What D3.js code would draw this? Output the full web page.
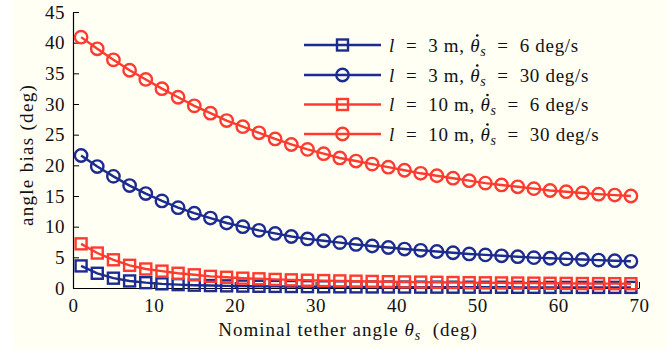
<!DOCTYPE html>
<html>
<head>
<meta charset="utf-8">
<script src="https://cdn.jsdelivr.net/npm/d3@7"></script>
<style>
  html, body { margin: 0; padding: 0; background: #fffff4; }
  svg { display: block; }
  text { font-family: "Liberation Serif", "DejaVu Serif", serif; fill: #111; }
</style>
</head>
<body>
<svg id="chart" width="667" height="349"></svg>
<script>
// nominal tether angle (deg)
const angles = d3.range(1, 70, 2);

const l3Slow = [3.6, 2.4, 1.6, 1.15, 0.87, 0.68, 0.55, 0.46, 0.4, 0.35, 0.31, 0.28, 0.26, 0.24, 0.22, 0.2, 0.19, 0.18,
  0.17, 0.16, 0.15, 0.14, 0.14, 0.13, 0.13, 0.12, 0.12, 0.11, 0.11, 0.1, 0.1, 0.1, 0.1, 0.1, 0.1];
const l3Fast = [21.6, 19.8, 18.2, 16.7, 15.4, 14.2, 13.1, 12.2, 11.4, 10.6, 10.0, 9.4, 8.9, 8.4, 8.0, 7.7, 7.4, 7.1,
  6.85, 6.6, 6.35, 6.15, 5.95, 5.75, 5.55, 5.4, 5.25, 5.1, 4.95, 4.85, 4.75, 4.65, 4.55, 4.45, 4.35];
const l10Slow = [7.2, 5.7, 4.6, 3.7, 3.1, 2.75, 2.4, 2.15, 1.9, 1.75, 1.6, 1.5, 1.4, 1.33, 1.27, 1.21, 1.16, 1.11,
  1.07, 1.03, 0.99, 0.96, 0.93, 0.9, 0.87, 0.85, 0.83, 0.81, 0.79, 0.77, 0.75, 0.73, 0.72, 0.71, 0.7];
const l10Fast = [40.9, 39.0, 37.2, 35.5, 34.0, 32.5, 31.1, 29.7, 28.5, 27.3, 26.3, 25.3, 24.3, 23.4, 22.6, 21.9, 21.2, 20.7,
  20.2, 19.7, 19.2, 18.7, 18.3, 17.9, 17.5, 17.1, 16.8, 16.5, 16.2, 15.9, 15.7, 15.5, 15.3, 15.15, 15.0];

const xTicks = [0, 10, 20, 30, 40, 50, 60, 70];
const yTicks = [0, 5, 10, 15, 20, 25, 30, 35, 40, 45];

const series = [
  { len: "3", rate: "6", values: l3Slow, color: "#1c2b8f", marker: "square" },
  { len: "3", rate: "30", values: l3Fast, color: "#1c2b8f", marker: "circle" },
  { len: "10", rate: "6", values: l10Slow, color: "#ff3b30", marker: "square" },
  { len: "10", rate: "30", values: l10Fast, color: "#ff3b30", marker: "circle" }
];

const svg = d3.select("#chart");
const width = 667, height = 349;
const margin = { top: 12, right: 28, bottom: 61, left: 73 };
const fontSize = 19;

// white strip on the far left like the exported figure
svg.append("rect").attr("x", 0).attr("y", 0).attr("width", 13).attr("height", height).attr("fill", "#ffffff");

const x = d3.scaleLinear().domain([0, 70]).range([margin.left, width - margin.right]);
const y = d3.scaleLinear().domain([0, 45]).range([height - margin.bottom, margin.top]);

// Axes with inward ticks
const xAxis = svg.append("g")
  .attr("transform", `translate(0,${y(0)})`)
  .call(d3.axisBottom(x).tickValues(xTicks).tickSizeInner(-6).tickSizeOuter(0).tickPadding(14));
const yAxis = svg.append("g")
  .attr("transform", `translate(${x(0)},0)`)
  .call(d3.axisLeft(y).tickValues(yTicks).tickSizeInner(-6).tickSizeOuter(0).tickPadding(8));

[xAxis, yAxis].forEach(g => {
  g.select(".domain").attr("stroke", "#000").attr("stroke-width", 1.2);
  g.selectAll(".tick line").attr("stroke", "#000").attr("stroke-width", 1);
  g.selectAll(".tick text").style("font-family", '"Liberation Serif", serif')
    .style("font-size", fontSize + "px").style("letter-spacing", "0.5px").attr("fill", "#111");
});
xAxis.selectAll(".tick text").attr("dy", "0.55em");

// Lines + markers
const line = d3.line().x((d, i) => x(angles[i])).y(d => y(d));

function drawMarker(g, type, color) {
  if (type === "circle") {
    g.append("circle").attr("r", 6.2).attr("fill", "none").attr("stroke", color).attr("stroke-width", 2.4);
  } else {
    g.append("rect").attr("x", -5.5).attr("y", -5.5).attr("width", 11).attr("height", 11)
      .attr("fill", "none").attr("stroke", color).attr("stroke-width", 2.4);
  }
}

series.forEach(s => {
  svg.append("path").datum(s.values)
    .attr("fill", "none").attr("stroke", s.color).attr("stroke-width", 2.4).attr("d", line);
  const pts = svg.append("g").selectAll("g").data(s.values).join("g")
    .attr("transform", (d, i) => `translate(${x(angles[i])},${y(d)})`);
  pts.each(function () { drawMarker(d3.select(this), s.marker, s.color); });
});

// Axis labels
svg.append("text")
  .attr("x", 348).attr("y", 336)
  .attr("text-anchor", "middle").style("font-size", fontSize + "px").style("letter-spacing", "1px")
  .style("white-space", "pre")
  .call(t => {
    t.append("tspan").text("Nominal tether angle ");
    t.append("tspan").style("font-style", "italic").text("θ");
    t.append("tspan").attr("dy", 4).style("font-size", "14px").style("font-style", "italic").text("s");
    t.append("tspan").attr("dy", -4).text("  (deg)");
  });

svg.append("text")
  .attr("transform", `translate(33,155) rotate(-90)`)
  .attr("text-anchor", "middle").style("font-size", fontSize + "px").style("letter-spacing", "1.3px")
  .text("angle bias (deg)");

// Legend
const legend = svg.append("g");
const legendY = [45, 75, 104.5, 134];
const textBase = 6.5;
series.forEach((s, i) => {
  const g = legend.append("g").attr("transform", `translate(0,${legendY[i]})`);
  g.append("line").attr("x1", 304).attr("x2", 381).attr("y1", 0).attr("y2", 0)
    .attr("stroke", s.color).attr("stroke-width", 2.4);
  const m = g.append("g").attr("transform", "translate(342.5,0)");
  drawMarker(m, s.marker, s.color);
  const t = g.append("text").attr("x", 389).attr("y", textBase)
    .style("font-size", fontSize + "px").style("letter-spacing", "0.7px").style("white-space", "pre");
  t.append("tspan").style("font-style", "italic").text("l");
  t.append("tspan").text(`  =  ${s.len} m, `);
  t.append("tspan").style("font-style", "italic").text("θ");
  t.append("tspan").attr("dy", 4).style("font-size", "14px").style("font-style", "italic").text("s");
  t.append("tspan").attr("dy", -4).text(`  =  ${s.rate} deg/s`);
  // dot over theta (time derivative)
  const node = t.node();
  const idx = node.textContent.indexOf("θ");
  const start = node.getStartPositionOfChar(idx);
  const end = node.getEndPositionOfChar(idx);
  g.append("circle")
    .attr("cx", (start.x + end.x) / 2 + 2)
    .attr("cy", textBase - fontSize * 0.84)
    .attr("r", 1.3).attr("fill", "#111");
});
</script>
</body>
</html>
